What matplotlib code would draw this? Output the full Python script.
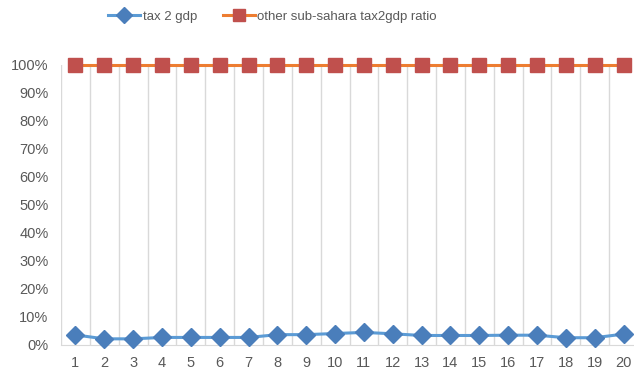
import matplotlib
matplotlib.use("Agg")
import matplotlib.pyplot as plt
from matplotlib.ticker import PercentFormatter

plt.rcParams['font.family'] = ['Liberation Sans Narrow', 'Liberation Sans', 'DejaVu Sans']

# data
years = list(range(1, 21))
tax2gdp = [0.036, 0.022, 0.022, 0.027, 0.027, 0.027, 0.027, 0.037, 0.037, 0.041,
           0.045, 0.040, 0.034, 0.034, 0.034, 0.035, 0.035, 0.026, 0.026, 0.039]
other_ssa = [1.0] * 20
labels = ["tax 2 gdp", "other sub-sahara tax2gdp ratio"]

fig = plt.figure(figsize=(6.34, 3.72), dpi=100)
ax = fig.add_axes([61 / 634, 1 - 345 / 372, (638 - 61) / 634, (345 - 65) / 372])

ax.plot(years, tax2gdp, color="#5B9BD5", lw=2.2, marker="D", markersize=9,
        markerfacecolor="#4A7EBB", markeredgecolor="#4A7EBB", label=labels[0],
        zorder=3, clip_on=False)
ax.plot(years, other_ssa, color="#ED7D31", lw=2.2, marker="s", markersize=10,
        markerfacecolor="#C0504D", markeredgecolor="#C0504D", label=labels[1],
        zorder=3, clip_on=False)

ax.set_xlim(0.5, 20.5)
ax.set_ylim(0, 1.0)
ax.set_yticks([i / 10 for i in range(11)])
ax.yaxis.set_major_formatter(PercentFormatter(1.0, decimals=0))
ax.set_xticks(years)
ax.set_xticks([y + 0.5 for y in range(0, 21)], minor=True)
ax.grid(which="minor", axis="x", color="#D9D9D9", lw=1)
ax.tick_params(which="both", length=0, labelsize=10.5, colors="#595959")
ax.tick_params(axis="x", pad=8)
ax.tick_params(axis="y", pad=9)
for s in ["top", "right", "left"]:
    ax.spines[s].set_visible(False)
ax.spines["bottom"].set_color("#D9D9D9")

fig.legend(loc="center", bbox_to_anchor=(0.43, 1 - 17 / 372), ncol=2, frameon=False,
           fontsize=9.5, labelcolor="#595959", handlelength=2.4, columnspacing=2.0,
           handletextpad=0.2, markerscale=0.85)

fig.savefig("out.png", dpi=100)
